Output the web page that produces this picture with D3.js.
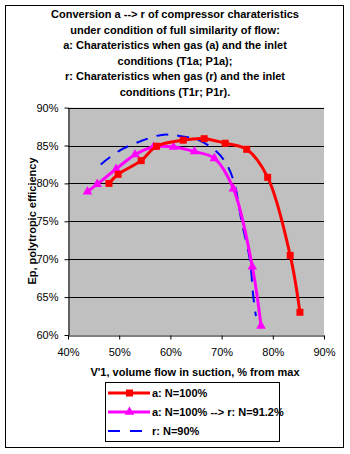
<!DOCTYPE html>
<html>
<head>
<meta charset="utf-8">
<script src="https://cdn.jsdelivr.net/npm/d3@7"></script>
<style>
  body { margin: 0; background: #fff; }
  text { font-family: "Liberation Sans", Arial, sans-serif; }
</style>
</head>
<body>
<svg width="350" height="454"></svg>
<script>
// series a: N=100%
const redX = [48.0, 49.8, 54.3, 57.3, 62.5, 66.6, 70.7, 74.9, 79.0, 83.4, 85.3]
const redY = [80.0, 81.2, 83.0, 84.9, 85.7, 85.9, 85.3, 84.5, 80.8, 70.5, 63.0]
// series a: N=100% --> r: N=91.2%
const magX = [43.8, 45.7, 49.4, 53.1, 56.7, 60.6, 64.7, 68.6, 72.3, 76.0, 77.7]
const magY = [78.9, 79.9, 81.9, 83.8, 84.8, 84.8, 84.2, 83.3, 79.3, 69.0, 61.2]
// series r: N=90%
const blueX = [46.4, 50.0, 54.3, 58.3, 61.5, 65.5, 69.0, 71.0, 72.5, 73.9, 75.5, 76.2, 76.7]
const blueY = [82.5, 84.3, 85.6, 86.4, 86.3, 85.7, 84.2, 82.5, 80.0, 75.0, 70.0, 65.0, 62.5]

const xTicks = [40, 50, 60, 70, 80, 90]
const yTicks = [60, 65, 70, 75, 80, 85, 90]

const titleLines = [
  'Conversion a --> r of compressor charateristics',
  'under condition of full similarity of flow:',
  'a: Charateristics when gas (a) and the inlet',
  'conditions (T1a; P1a);',
  'r: Charateristics when gas (r) and the inlet',
  'conditions (T1r; P1r).'
]
const legendNames = ['a: N=100%', 'a: N=100% --> r: N=91.2%', 'r: N=90%']

const svg = d3.select('svg')

svg.append('rect')
    .attr('x', 5.5).attr('y', 5.5)
    .attr('width', 338).attr('height', 442)
    .attr('fill', '#fff').attr('stroke', '#000')

const plot = {left: 68, right: 324, top: 107.6, bottom: 335}

const x = d3.scaleLinear().domain([40, 90]).range([plot.left, plot.right])
const y = d3.scaleLinear().domain([60, 90]).range([plot.bottom, plot.top])

svg.append('rect')
    .attr('x', plot.left).attr('y', plot.top)
    .attr('width', plot.right - plot.left).attr('height', plot.bottom - plot.top)
    .attr('fill', '#c0c0c0')

// gridlines
svg.append('g')
    .selectAll('line')
    .data(yTicks.slice(1))
    .join('line')
    .attr('x1', plot.left).attr('x2', plot.right)
    .attr('y1', d => Math.round(y(d)) + 0.5).attr('y2', d => Math.round(y(d)) + 0.5)
    .attr('stroke', '#000')

// axes
const xAxis = svg.append('g')
    .attr('transform', `translate(0,${Math.round(plot.bottom) + 0.5})`)
    .call(d3.axisBottom(x).tickValues(xTicks).tickFormat(d => d + '%').tickSizeInner(4).tickSizeOuter(0).tickPadding(9))
const yAxis = svg.append('g')
    .attr('transform', `translate(${plot.left + 0.5},0)`)
    .call(d3.axisLeft(y).tickValues(yTicks).tickFormat(d => d + '%').tickSizeInner(4).tickSizeOuter(0).tickPadding(6))

svg.selectAll('.tick text')
    .attr('font-size', 11)
    .attr('font-family', '"Liberation Sans", Arial, sans-serif')
    .attr('fill', '#000')
svg.selectAll('.domain, .tick line').attr('stroke', '#000')

// series
const line = d3.line()
    .x(d => x(d[0]))
    .y(d => y(d[1]))
    .curve(d3.curveCatmullRom.alpha(0.5))

const blue = d3.zip(blueX, blueY)
const mag = d3.zip(magX, magY)
const red = d3.zip(redX, redY)

svg.append('path')
    .datum(blue)
    .attr('d', line)
    .attr('fill', 'none')
    .attr('stroke', '#0000ff')
    .attr('stroke-width', 2)
    .attr('stroke-dasharray', '12,9')

svg.append('path')
    .datum(mag)
    .attr('d', line)
    .attr('fill', 'none')
    .attr('stroke', '#ff00ff')
    .attr('stroke-width', 3)

const tri = d3.symbol().type(d3.symbolTriangle).size(40)
svg.append('g')
    .selectAll('path')
    .data(mag)
    .join('path')
    .attr('d', tri)
    .attr('transform', d => `translate(${x(d[0])},${y(d[1])})`)
    .attr('fill', '#ff00ff')

svg.append('path')
    .datum(red)
    .attr('d', line)
    .attr('fill', 'none')
    .attr('stroke', '#ff0000')
    .attr('stroke-width', 3)

svg.append('g')
    .selectAll('rect')
    .data(red)
    .join('rect')
    .attr('x', d => x(d[0]) - 3.5)
    .attr('y', d => y(d[1]) - 3.5)
    .attr('width', 7).attr('height', 7)
    .attr('fill', '#ff0000')

// title
svg.append('g')
    .selectAll('text')
    .data(titleLines)
    .join('text')
    .attr('x', 175)
    .attr('y', (d, i) => 18 + i * 15.5)
    .attr('text-anchor', 'middle')
    .attr('font-size', 11)
    .attr('font-weight', 'bold')
    .text(d => d)

svg.append('text')
    .attr('transform', 'translate(36,221) rotate(-90)')
    .attr('text-anchor', 'middle')
    .attr('font-size', 11)
    .attr('font-weight', 'bold')
    .text('Ep, polytropic efficiency')

svg.append('text')
    .attr('x', 195).attr('y', 376)
    .attr('text-anchor', 'middle')
    .attr('font-size', 11)
    .attr('font-weight', 'bold')
    .text("V'1, volume flow in suction, % from max")

// legend
const lg = svg.append('g')
lg.append('rect')
    .attr('x', 105.5).attr('y', 382.5)
    .attr('width', 174).attr('height', 59)
    .attr('fill', '#fff').attr('stroke', '#000')

const ly = [393, 412, 431]
const colors = ['#ff0000', '#ff00ff', '#0000ff']
ly.forEach((yy, i) => {
  const l = lg.append('line')
      .attr('x1', 108).attr('x2', 150)
      .attr('y1', yy).attr('y2', yy)
      .attr('stroke', colors[i])
      .attr('stroke-width', i === 2 ? 2 : 3)
  if (i === 2) l.attr('stroke-dasharray', '12,10')
  lg.append('text')
      .attr('x', 152).attr('y', yy + 4)
      .attr('font-size', 11)
      .attr('font-weight', 'bold')
      .text(legendNames[i])
})
lg.append('rect')
    .attr('x', 126).attr('y', ly[0] - 3.5)
    .attr('width', 7).attr('height', 7)
    .attr('fill', '#ff0000')
lg.append('path')
    .attr('d', tri)
    .attr('transform', `translate(129.5,${ly[1]})`)
    .attr('fill', '#ff00ff')
</script>
</body>
</html>
